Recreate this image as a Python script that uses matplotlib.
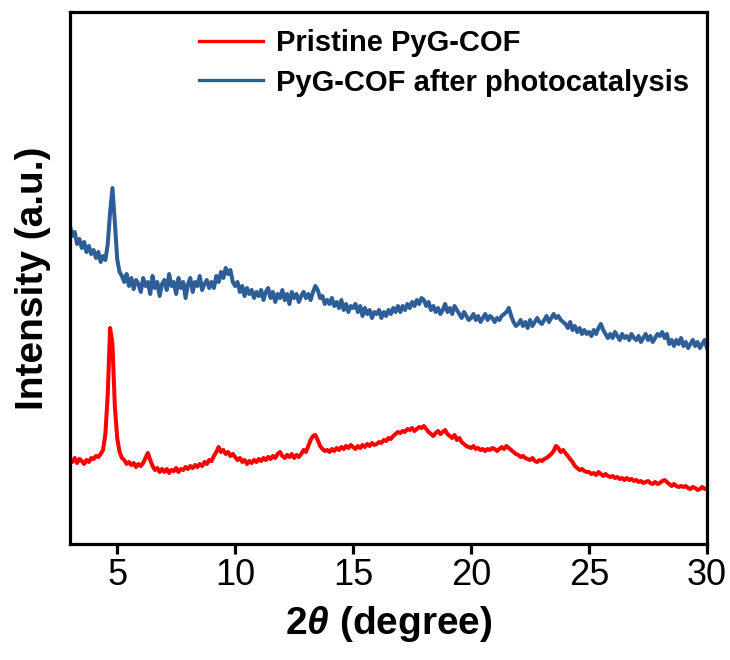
"""
PyG-COF の XRD パターン (合成直後 vs 光触媒反応後).
強度は任意単位なので, 図から読んだ値をそのまま並べている.
"""
import numpy as np
import matplotlib
matplotlib.use("Agg")
import matplotlib.pyplot as plt
from matplotlib import font_manager

# 2θ は 3〜30 度, 0.1 度刻み
two_theta_start = 3.0
two_theta_stop = 30.0
two_theta_step = 0.1

# 光触媒反応後 (青)
after_photocatalysis = [
    318, 308, 312, 300, 305, 296, 302, 292, 298, 290,   # 3.x
    294, 286, 292, 282, 288, 284, 300, 332, 356, 322,   # 4.x
    285, 272, 268, 262, 270, 258, 266, 255, 264, 260,   # 5.x
    252, 266, 258, 262, 250, 268, 256, 262, 248, 260,   # 6.x
    264, 254, 270, 258, 262, 250, 266, 256, 262, 246,   # 7.x
    260, 266, 252, 262, 258, 268, 254, 260, 264, 256,   # 8.x
    262, 256, 268, 262, 272, 266, 276, 270, 274, 262,   # 9.x
    258, 262, 252, 258, 248, 256, 250, 254, 246, 252,   # 10.x
    248, 254, 244, 252, 256, 246, 252, 242, 250, 246,   # 11.x
    254, 244, 250, 240, 252, 246, 250, 242, 248, 252,   # 12.x
    246, 250, 244, 252, 258, 254, 246, 248, 240, 244,   # 13.x
    240, 246, 238, 242, 236, 244, 234, 240, 232, 238,   # 14.x
    236, 240, 232, 238, 228, 236, 230, 234, 226, 232,   # 15.x
    230, 234, 226, 232, 228, 234, 230, 236, 232, 238,   # 16.x
    232, 238, 234, 240, 236, 242, 238, 244, 240, 246,   # 17.x
    244, 238, 242, 234, 238, 232, 236, 230, 234, 240,   # 18.x
    232, 236, 230, 238, 234, 230, 226, 232, 228, 224,   # 19.x
    226, 230, 224, 228, 222, 226, 230, 224, 228, 226,   # 20.x
    222, 226, 224, 228, 230, 232, 236, 228, 222, 218,   # 21.x
    220, 224, 218, 222, 216, 224, 218, 222, 226, 222,   # 22.x
    220, 224, 228, 222, 226, 230, 226, 228, 224, 222,   # 23.x
    220, 216, 222, 214, 218, 212, 216, 210, 214, 210,   # 24.x
    212, 208, 214, 210, 216, 220, 214, 210, 206, 210,   # 25.x
    206, 212, 208, 204, 210, 206, 208, 204, 210, 206,   # 26.x
    204, 208, 202, 206, 210, 204, 208, 202, 206, 210,   # 27.x
    208, 212, 206, 210, 200, 204, 198, 204, 200, 206,   # 28.x
    198, 202, 196, 200, 204, 198, 202, 196, 200, 204,   # 29.x
    196,                                                # 30.0
]

# 合成直後 (赤)
pristine = [
    84, 82, 86, 81, 85, 83, 80, 84, 82, 86,             # 3.x
    85, 88, 87, 90, 94, 110, 150, 216, 200, 138,        # 4.x
    106, 92, 86, 84, 80, 82, 79, 81, 77, 80,            # 5.x
    78, 81, 86, 91, 84, 78, 74, 76, 72, 75,             # 6.x
    72, 75, 71, 74, 73, 76, 72, 75, 74, 77,             # 7.x
    75, 78, 76, 79, 77, 80, 78, 82, 80, 84,             # 8.x
    83, 88, 92, 97, 92, 94, 90, 92, 88, 90,             # 9.x
    87, 84, 86, 82, 84, 80, 83, 81, 84, 82,             # 10.x
    85, 83, 86, 84, 87, 85, 88, 86, 90, 92,             # 11.x
    88, 86, 89, 87, 90, 86, 89, 87, 90, 94,             # 12.x
    92, 98, 104, 108, 109, 104, 98, 95, 93, 94,         # 13.x
    92, 95, 93, 96, 94, 97, 95, 98, 96, 99,             # 14.x
    97, 95, 98, 96, 99, 97, 100, 98, 101, 99,           # 15.x
    100, 102, 101, 104, 103, 106, 105, 108, 110, 112,   # 16.x
    111, 113, 112, 115, 114, 116, 113, 115, 117, 116,   # 17.x
    118, 115, 112, 110, 108, 111, 113, 110, 112, 114,   # 18.x
    110, 108, 106, 109, 104, 106, 102, 100, 98, 97,     # 19.x
    96, 98, 95, 96, 94, 95, 93, 95, 94, 96,             # 20.x
    95, 93, 95, 97, 95, 98, 96, 94, 92, 90,             # 21.x
    89, 87, 88, 86, 85, 84, 86, 83, 82, 84,             # 22.x
    83, 85, 86, 88, 90, 93, 98, 96, 92, 94,             # 23.x
    91, 88, 85, 82, 78, 76, 74, 75, 73, 72,             # 24.x
    72, 70, 71, 69, 72, 70, 68, 70, 68, 67,             # 25.x
    68, 66, 67, 65, 66, 64, 66, 64, 65, 63,             # 26.x
    64, 62, 63, 61, 62, 63, 61, 60, 62, 60,             # 27.x
    61, 63, 64, 62, 60, 58, 60, 58, 57, 58,             # 28.x
    57, 58, 56, 55, 57, 56, 54, 55, 57, 55,             # 29.x
    56,                                                 # 30.0
]

series_labels = ["Pristine PyG-COF", "PyG-COF after photocatalysis"]
x_ticks = [5, 10, 15, 20, 25, 30]

two_theta = np.round(np.arange(two_theta_start, two_theta_stop + two_theta_step / 2, two_theta_step), 2)

# フォント設定. Arial 相当の Liberation Sans を使う.
plt.rcParams['font.family'] = ['Liberation Sans', 'DejaVu Sans']
plt.rcParams['mathtext.fontset'] = 'custom'
plt.rcParams['mathtext.it'] = 'Liberation Sans:italic:bold'
plt.rcParams['mathtext.rm'] = 'Liberation Sans:bold'

# 目盛り数字は少し細長いので Narrow があればそちらを使う
available = {f.name for f in font_manager.fontManager.ttflist}
tick_family = 'Liberation Sans Narrow' if 'Liberation Sans Narrow' in available else 'Liberation Sans'

fig = plt.figure(figsize=(7.3, 6.6), dpi=100)
ax = fig.add_axes([70 / 730, 1 - 544 / 660, (707 - 70) / 730, (544 - 12) / 660])

ax.plot(two_theta, pristine, color='#ff0000', lw=2.9, label=series_labels[0])
ax.plot(two_theta, after_photocatalysis, color='#2e5e98', lw=2.9, label=series_labels[1])

ax.set_xlim(3, 30)
ax.set_ylim(0, 532)
ax.set_xticks(x_ticks)
ax.set_yticks([])

for s in ax.spines.values():
    s.set_linewidth(2.3)
ax.tick_params(axis='x', direction='out', length=7, width=2.3, pad=3, labelsize=26)
for lab in ax.get_xticklabels():
    lab.set_family(tick_family)

ax.set_xlabel(r'2$\theta$ (degree)', fontsize=28, fontweight='bold', labelpad=8)
ax.set_ylabel('Intensity (a.u.)', fontsize=28, fontweight='bold', labelpad=14)

leg = ax.legend(loc='upper left', bbox_to_anchor=(199 / 730, 1 - 29 / 660), bbox_transform=fig.transFigure,
                frameon=False, prop={'weight': 'bold', 'size': 21}, handlelength=2.2, handletextpad=0.45,
                labelspacing=0.4, borderpad=0, borderaxespad=0)
for line in leg.get_lines():
    line.set_linewidth(2.4)

fig.savefig('out.png', dpi=100)
